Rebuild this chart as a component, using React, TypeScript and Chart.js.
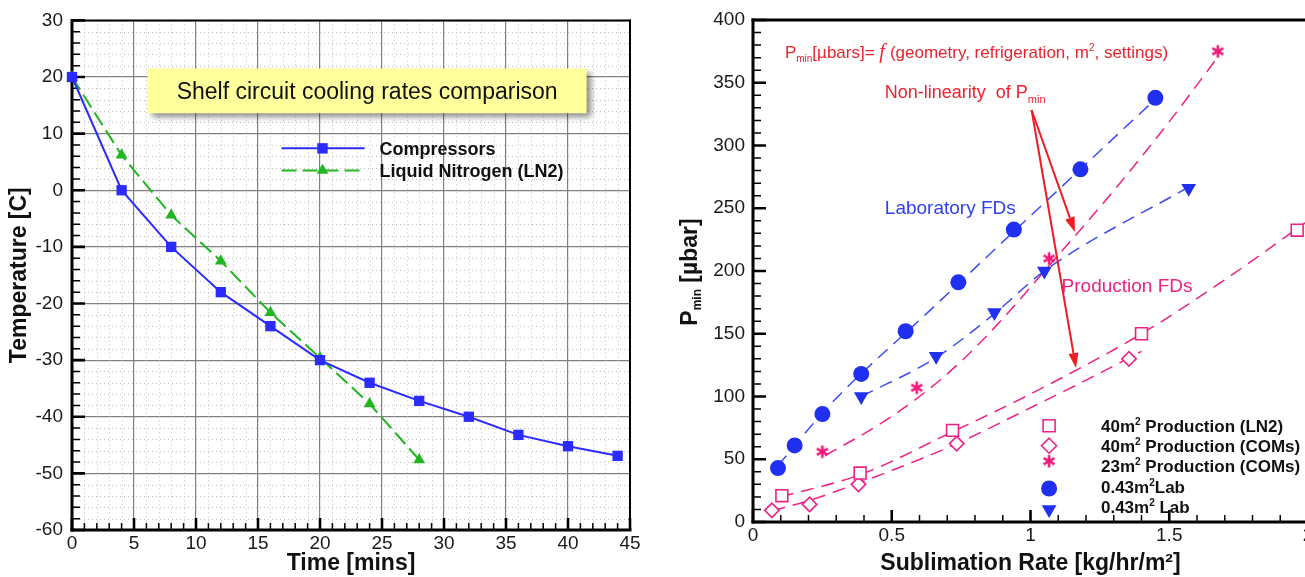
import React, { useEffect, useRef } from "react";
import { Chart, registerables } from "chart.js";

Chart.register(...registerables);

const FONT = '"Liberation Sans", Arial, Helvetica, sans-serif';

// ---------------- Left chart data ----------------
const timeMins = [0, 4, 8, 12, 16, 20, 24, 28, 32, 36, 40, 44];
const compressorsTemp = [20, 0, -10, -18, -24, -30, -34, -37.2, -40, -43.2, -45.2, -46.9];
const ln2Time = [0, 4, 8, 12, 16, 20, 24, 28];
const ln2Temp = [20, 6.2, -4.4, -12.5, -21.6, -29.6, -37.7, -47.6];
const timeTicks = [0, 5, 10, 15, 20, 25, 30, 35, 40, 45];
const tempTicks = [-60, -50, -40, -30, -20, -10, 0, 10, 20, 30];
const leftSeriesNames = ["Compressors", "Liquid Nitrogen (LN2)"];
const leftTitle = "Shelf circuit cooling rates comparison";
const leftXTitle = "Time [mins]";
const leftYTitle = "Temperature [C]";

// ---------------- Right chart data ----------------
const labCircleRate = [0.09, 0.15, 0.25, 0.39, 0.55, 0.74, 0.94, 1.18, 1.45];
const labCirclePmin = [43, 61, 86, 118, 152, 191, 233, 281, 338];
const labTriRate = [0.39, 0.66, 0.87, 1.05, 1.57];
const labTriPmin = [100, 132, 167, 200, 266];
const prod23Rate = [0.25, 0.59, 1.067, 1.675];
const prod23Pmin = [56, 107, 210, 375];
const prod40LN2Rate = [0.104, 0.386, 0.719, 1.4, 1.961];
const prod40LN2Pmin = [21, 39, 73, 150, 232.5];
const prod40COMsRate = [0.068, 0.204, 0.38, 0.734, 1.355];
const prod40COMsPmin = [9.3, 14, 30, 62.5, 130];

// trend (fit) lines
const fitCircleRate = [0.09, 0.28, 0.63, 1.01, 1.46];
const fitCirclePmin = [45, 94, 167, 246, 339];
const fitTriRate = [0.39, 0.66, 0.87, 1.05, 1.57];
const fitTriPmin = [100, 131, 166, 200, 267];
const fitStarRate = [0.26, 0.45, 0.6, 0.75, 0.9, 1.07, 1.3, 1.5, 1.68];
const fitStarPmin = [53, 77, 100, 128, 162, 205, 264, 319, 372];
const fitSquareRate = [0.1, 0.39, 0.72, 1.0, 1.4, 1.7, 2.0];
const fitSquarePmin = [20, 38, 72, 102, 150, 193, 240];
const fitDiamondRate = [0.07, 0.2, 0.38, 0.73, 1.0, 1.2, 1.4];
const fitDiamondPmin = [9, 17, 31, 62, 91, 113, 136];

const rateTicks = [0, 0.5, 1, 1.5, 2];
const pminTicks = [0, 50, 100, 150, 200, 250, 300, 350, 400];
const rightXTitle = "Sublimation Rate [kg/hr/m\u00B2]";
const rightLegend: [string, string, string][] = [
  ["40m", "2", " Production (LN2)"],
  ["40m", "2", " Production (COMs)"],
  ["23m", "2", " Production (COMs)"],
  ["0.43m", "2", "Lab"],
  ["0.43m", "2", " Lab"],
];

// ---------------- styles / placement (not data) ----------------
const BLUE_L = "#2b2bff";
const GREEN_L = "#22b522";
const BLUE_R = "#2030f0";
const BLUE_LINE = "#3d4df0";
const PINK = "#ee2284";
const RED = "#e8242c";
const LN2_DASH = [15, 6];

const leftTitleBox = { x0: 6.1, x1: 41.5, yTop: 21.5, yBottom: 13.6 };
const leftLegendPos = { lineX0: 16.9, lineX1: 23.6, markerX: 20.2, textX: 24.8, rowY: [7.4, 3.5] };

const rightNotes = {
  formula: { x: 0.115, y: 369.5 },
  nonLinear: { x: 0.475, y: 337.8 },
  lab: { x: 0.475, y: 245.4 },
  prod: { x: 1.112, y: 182.9 },
};
const arrowFrom = { x: 1.004, y: 328.3 };
const arrowTips = [
  { x: 1.16, y: 231 },
  { x: 1.164, y: 122.7 },
];
const rightLegendPos = {
  markerX: 1.067,
  textX: 1.254,
  markerY: [76.7, 60.8, 48.5, 26.7, 10],
  textY: [72, 56, 39.8, 22.9, 6.9],
};

const pts = (xs: number[], ys: number[]) => xs.map((x, i) => ({ x, y: ys[i] }));

function makeAsterisk(color: string) {
  const c = document.createElement("canvas");
  c.width = 18;
  c.height = 18;
  const g = c.getContext("2d")!;
  g.strokeStyle = color;
  g.lineWidth = 2.6;
  g.lineCap = "butt";
  const r = 6.3;
  for (const deg of [90, 30, 150]) {
    const a = (deg * Math.PI) / 180;
    g.beginPath();
    g.moveTo(9 - Math.cos(a) * r, 9 - Math.sin(a) * r);
    g.lineTo(9 + Math.cos(a) * r, 9 + Math.sin(a) * r);
    g.stroke();
  }
  return c;
}

type Part = { t: string; font: string; dy?: number };
function drawRich(ctx: CanvasRenderingContext2D, x: number, y: number, parts: Part[], color: string) {
  let cx = x;
  ctx.fillStyle = color;
  ctx.textAlign = "left";
  ctx.textBaseline = "alphabetic";
  for (const p of parts) {
    ctx.font = p.font;
    ctx.fillText(p.t, cx, y + (p.dy || 0));
    cx += ctx.measureText(p.t).width;
  }
}

function drawArrow(ctx: CanvasRenderingContext2D, x0: number, y0: number, x1: number, y1: number) {
  const ang = Math.atan2(y1 - y0, x1 - x0);
  const L = 15;
  const W = 5;
  const bx = x1 - L * Math.cos(ang);
  const by = y1 - L * Math.sin(ang);
  ctx.beginPath();
  ctx.moveTo(x0, y0);
  ctx.lineTo(bx, by);
  ctx.stroke();
  ctx.beginPath();
  ctx.moveTo(x1, y1);
  ctx.lineTo(bx + W * Math.sin(ang), by - W * Math.cos(ang));
  ctx.lineTo(bx - W * Math.sin(ang), by + W * Math.cos(ang));
  ctx.closePath();
  ctx.fill();
}

function drawFrame(
  ctx: CanvasRenderingContext2D,
  a: any,
  xs: any,
  ys: any,
  xMajor: number[],
  xMinor: number[],
  yMajor: number[],
  yMinor: number[],
  w: { left: number; bottom: number; top: number; right: number }
) {
  ctx.save();
  ctx.strokeStyle = "#000";
  ctx.lineCap = "butt";
  ctx.lineWidth = 1.5;
  ctx.beginPath();
  for (const v of xMinor) {
    const px = xs.getPixelForValue(v);
    ctx.moveTo(px, a.bottom);
    ctx.lineTo(px, a.bottom - 7);
  }
  for (const v of yMinor) {
    const py = ys.getPixelForValue(v);
    ctx.moveTo(a.left, py);
    ctx.lineTo(a.left + 8, py);
  }
  ctx.stroke();
  ctx.lineWidth = 2.6;
  ctx.beginPath();
  for (const v of xMajor) {
    const px = xs.getPixelForValue(v);
    ctx.moveTo(px, a.bottom);
    ctx.lineTo(px, a.bottom - 12);
  }
  for (const v of yMajor) {
    const py = ys.getPixelForValue(v);
    ctx.moveTo(a.left, py);
    ctx.lineTo(a.left + 13, py);
  }
  ctx.stroke();
  const seg = (x0: number, y0: number, x1: number, y1: number, lw: number) => {
    ctx.lineWidth = lw;
    ctx.beginPath();
    ctx.moveTo(x0, y0);
    ctx.lineTo(x1, y1);
    ctx.stroke();
  };
  ctx.lineCap = "square";
  seg(a.left, a.top, a.right, a.top, w.top);
  seg(a.right, a.top, a.right, a.bottom, w.right);
  seg(a.left, a.bottom, a.right, a.bottom, w.bottom);
  seg(a.left, a.top, a.left, a.bottom, w.left);
  ctx.restore();
}

const leftDecor = {
  id: "leftDecor",
  beforeDatasetsDraw(chart: any) {
    const { ctx, chartArea: a, scales } = chart;
    const xs = scales.x;
    const ys = scales.y;
    ctx.save();
    ctx.strokeStyle = "#bdbdbd";
    ctx.lineWidth = 1;
    ctx.setLineDash([1, 3]);
    ctx.beginPath();
    const xMinor: number[] = [];
    const yMinor: number[] = [];
    for (let v = 0; v <= 45; v++) {
      if (v % 5 === 0) continue;
      xMinor.push(v);
      const px = Math.round(xs.getPixelForValue(v)) + 0.5;
      ctx.moveTo(px, a.top);
      ctx.lineTo(px, a.bottom);
    }
    for (let v = -60; v <= 30; v += 2) {
      if (v % 10 === 0) continue;
      yMinor.push(v);
      const py = Math.round(ys.getPixelForValue(v)) + 0.5;
      ctx.moveTo(a.left, py);
      ctx.lineTo(a.right, py);
    }
    ctx.stroke();
    ctx.setLineDash([]);

    drawFrame(ctx, a, xs, ys, timeTicks, xMinor, tempTicks, yMinor, { left: 3, bottom: 3, top: 2, right: 2 });

    const bx0 = xs.getPixelForValue(leftTitleBox.x0);
    const bx1 = xs.getPixelForValue(leftTitleBox.x1);
    const by0 = ys.getPixelForValue(leftTitleBox.yTop);
    const by1 = ys.getPixelForValue(leftTitleBox.yBottom);
    ctx.save();
    ctx.shadowColor = "rgba(0,0,0,0.45)";
    ctx.shadowBlur = 6;
    ctx.shadowOffsetX = 4;
    ctx.shadowOffsetY = 4;
    ctx.fillStyle = "#ffff9c";
    ctx.fillRect(bx0, by0, bx1 - bx0, by1 - by0);
    ctx.restore();
    ctx.font = `23px ${FONT}`;
    ctx.fillStyle = "#111";
    ctx.textAlign = "center";
    ctx.textBaseline = "alphabetic";
    ctx.fillText(leftTitle, (bx0 + bx1) / 2, (by0 + by1) / 2 + 8.5);
    ctx.restore();
  },
  afterDatasetsDraw(chart: any) {
    const { ctx, scales } = chart;
    const xs = scales.x;
    const ys = scales.y;
    const lx0 = xs.getPixelForValue(leftLegendPos.lineX0);
    const lx1 = xs.getPixelForValue(leftLegendPos.lineX1);
    const mx = xs.getPixelForValue(leftLegendPos.markerX);
    const tx = xs.getPixelForValue(leftLegendPos.textX);
    ctx.save();
    let ry = ys.getPixelForValue(leftLegendPos.rowY[0]);
    ctx.strokeStyle = BLUE_L;
    ctx.lineWidth = 2;
    ctx.beginPath();
    ctx.moveTo(lx0, ry);
    ctx.lineTo(lx1, ry);
    ctx.stroke();
    ctx.fillStyle = BLUE_L;
    ctx.fillRect(mx - 5.2, ry - 5.2, 10.4, 10.4);
    ctx.font = `bold 18px ${FONT}`;
    ctx.fillStyle = "#111";
    ctx.textAlign = "left";
    ctx.textBaseline = "alphabetic";
    ctx.fillText(leftSeriesNames[0], tx, ry + 6.5);
    ry = ys.getPixelForValue(leftLegendPos.rowY[1]);
    ctx.strokeStyle = GREEN_L;
    ctx.setLineDash(LN2_DASH);
    ctx.beginPath();
    ctx.moveTo(lx0, ry);
    ctx.lineTo(lx1, ry);
    ctx.stroke();
    ctx.setLineDash([]);
    ctx.fillStyle = GREEN_L;
    const r = 6.8;
    ctx.beginPath();
    ctx.moveTo(mx, ry - r);
    ctx.lineTo(mx + r * 0.866, ry + r * 0.5);
    ctx.lineTo(mx - r * 0.866, ry + r * 0.5);
    ctx.closePath();
    ctx.fill();
    ctx.fillStyle = "#111";
    ctx.fillText(leftSeriesNames[1], tx, ry + 6.5);
    ctx.restore();
  },
};

function makeRightDecor(star: HTMLCanvasElement) {
  return {
    id: "rightDecor",
    beforeDatasetsDraw(chart: any) {
      const { ctx, chartArea: a, scales } = chart;
      const xMinor: number[] = [];
      const yMinor: number[] = [];
      for (let i = 0; i <= 20; i++) if (i % 5 !== 0) xMinor.push(i / 10);
      for (let v = 0; v <= 400; v += 10) if (v % 50 !== 0) yMinor.push(v);
      drawFrame(ctx, a, scales.x, scales.y, rateTicks, xMinor, pminTicks, yMinor, { left: 3, bottom: 3, top: 3, right: 2 });
    },
    afterDatasetsDraw(chart: any) {
      const { ctx, chartArea: a, scales } = chart;
      const xs = scales.x;
      const ys = scales.y;
      const X = (v: number) => xs.getPixelForValue(v);
      const Y = (v: number) => ys.getPixelForValue(v);
      ctx.save();
      const f17 = `17px ${FONT}`;
      const f10 = `10px ${FONT}`;
      drawRich(
        ctx,
        X(rightNotes.formula.x),
        Y(rightNotes.formula.y),
        [
          { t: "P", font: f17 },
          { t: "min", font: f10, dy: 4 },
          { t: "[\u00B5bars]= ", font: f17 },
          { t: "f ", font: 'italic 20px "Liberation Serif", "Times New Roman", serif' },
          { t: "(geometry, refrigeration, m", font: f17 },
          { t: "2", font: f10, dy: -7 },
          { t: ", settings)", font: f17 },
        ],
        RED
      );
      drawRich(
        ctx,
        X(rightNotes.nonLinear.x),
        Y(rightNotes.nonLinear.y),
        [
          { t: "Non-linearity  of P", font: `18px ${FONT}` },
          { t: "min", font: `11px ${FONT}`, dy: 5 },
        ],
        RED
      );
      drawRich(ctx, X(rightNotes.lab.x), Y(rightNotes.lab.y), [{ t: "Laboratory FDs", font: `19px ${FONT}` }], "#3040ee");
      drawRich(ctx, X(rightNotes.prod.x), Y(rightNotes.prod.y), [{ t: "Production FDs", font: `19px ${FONT}` }], PINK);

      ctx.strokeStyle = "#ee1c24";
      ctx.fillStyle = "#ee1c24";
      ctx.lineWidth = 2;
      for (const tip of arrowTips) drawArrow(ctx, X(arrowFrom.x), Y(arrowFrom.y), X(tip.x), Y(tip.y));

      const mx = X(rightLegendPos.markerX);
      const tx = X(rightLegendPos.textX);
      const my = rightLegendPos.markerY.map(Y);
      ctx.lineWidth = 1.6;
      ctx.strokeStyle = PINK;
      ctx.fillStyle = "#fff";
      ctx.beginPath();
      ctx.rect(mx - 6, my[0] - 6, 12, 12);
      ctx.fill();
      ctx.stroke();
      ctx.beginPath();
      ctx.moveTo(mx, my[1] - 7.5);
      ctx.lineTo(mx + 7.5, my[1]);
      ctx.lineTo(mx, my[1] + 7.5);
      ctx.lineTo(mx - 7.5, my[1]);
      ctx.closePath();
      ctx.fill();
      ctx.stroke();
      ctx.drawImage(star, mx - star.width / 2, my[2] - star.height / 2);
      ctx.fillStyle = BLUE_R;
      ctx.beginPath();
      ctx.arc(mx, my[3], 8, 0, Math.PI * 2);
      ctx.fill();
      const r = 8.5;
      ctx.beginPath();
      ctx.moveTo(mx, my[4] + r);
      ctx.lineTo(mx + r * 0.866, my[4] - r * 0.5);
      ctx.lineTo(mx - r * 0.866, my[4] - r * 0.5);
      ctx.closePath();
      ctx.fill();
      const fb = `bold 17px ${FONT}`;
      const fs = `bold 10px ${FONT}`;
      rightLegend.forEach((row, i) => {
        drawRich(
          ctx,
          tx,
          Y(rightLegendPos.textY[i]),
          [
            { t: row[0], font: fb },
            { t: row[1], font: fs, dy: -7 },
            { t: row[2], font: fb },
          ],
          "#111"
        );
      });

      ctx.save();
      ctx.translate(a.left - 56, (a.top + a.bottom) / 2 + 1);
      ctx.rotate(-Math.PI / 2);
      const big = `bold 23px ${FONT}`;
      const sub = `bold 12px ${FONT}`;
      ctx.font = big;
      const wP = ctx.measureText("P").width;
      const wR = ctx.measureText(" [\u00B5bar]").width;
      ctx.font = sub;
      const wM = ctx.measureText("min").width;
      const total = wP + wM + wR;
      drawRich(
        ctx,
        -total / 2,
        0,
        [
          { t: "P", font: big },
          { t: "min", font: sub, dy: 4 },
          { t: " [\u00B5bar]", font: big },
        ],
        "#111"
      );
      ctx.restore();
      ctx.restore();
    },
  };
}

export default function App() {
  const leftRef = useRef<HTMLCanvasElement>(null);
  const rightRef = useRef<HTMLCanvasElement>(null);

  useEffect(() => {
    if (!leftRef.current || !rightRef.current) return;
    const tickFont = { family: FONT, size: 19 };
    const titleFont = { family: FONT, size: 23, weight: "bold" as const };

    const left = new Chart(leftRef.current, {
      type: "scatter",
      data: {
        datasets: [
          {
            label: leftSeriesNames[0],
            data: pts(timeMins, compressorsTemp),
            showLine: true,
            borderColor: BLUE_L,
            backgroundColor: BLUE_L,
            borderWidth: 2,
            pointStyle: "rect",
            pointRadius: 7.3,
            pointBorderWidth: 0,
            clip: false,
            tension: 0,
          },
          {
            label: leftSeriesNames[1],
            data: pts(ln2Time, ln2Temp),
            showLine: true,
            borderColor: GREEN_L,
            backgroundColor: GREEN_L,
            borderWidth: 2,
            borderDash: LN2_DASH,
            pointStyle: "triangle",
            pointRadius: 6.8,
            pointBorderWidth: 0,
            clip: false,
            tension: 0,
          },
        ],
      },
      options: {
        animation: false,
        responsive: false,
        maintainAspectRatio: false,
        layout: { padding: { top: 19, right: 22, left: 0, bottom: 0 } },
        plugins: { legend: { display: false }, tooltip: { enabled: false } },
        scales: {
          x: {
            type: "linear",
            min: 0,
            max: 45,
            afterBuildTicks: (s: any) => {
              s.ticks = timeTicks.map((v) => ({ value: v }));
            },
            afterFit: (s: any) => {
              s.height = 47;
            },
            ticks: { font: tickFont, color: "#1a1a1a", padding: 2, callback: (v: any) => String(v) },
            grid: { color: "#808080", lineWidth: 1.2, drawTicks: false },
            border: { display: false },
            title: { display: true, text: leftXTitle, font: titleFont, color: "#111", padding: { top: 0, bottom: 0 } },
          },
          y: {
            type: "linear",
            min: -60,
            max: 30,
            afterBuildTicks: (s: any) => {
              s.ticks = tempTicks.map((v) => ({ value: v }));
            },
            afterFit: (s: any) => {
              s.width = 72;
            },
            ticks: { font: tickFont, color: "#1a1a1a", padding: 9, callback: (v: any) => String(v) },
            grid: { color: "#808080", lineWidth: 1.2, drawTicks: false },
            border: { display: false },
            title: { display: true, text: leftYTitle, font: titleFont, color: "#111", padding: { top: 6, bottom: 0 } },
          },
        },
      },
      plugins: [leftDecor],
    } as any);

    const star = makeAsterisk("#ee1a7a");
    const dashed = (data: any, color: string) => ({
      data,
      showLine: true,
      borderColor: color,
      borderWidth: 1.5,
      borderDash: [13, 8],
      pointRadius: 0,
      clip: false,
      cubicInterpolationMode: "monotone",
    });

    const right = new Chart(rightRef.current, {
      type: "scatter",
      data: {
        datasets: [
          {
            label: "0.43m2 Lab (circles)",
            data: pts(labCircleRate, labCirclePmin),
            pointStyle: "circle",
            pointRadius: 8,
            backgroundColor: BLUE_R,
            borderColor: BLUE_R,
            pointBorderWidth: 0,
            clip: false,
          },
          {
            label: "0.43m2 Lab (triangles)",
            data: pts(labTriRate, labTriPmin),
            pointStyle: "triangle",
            rotation: 180,
            pointRadius: 8.5,
            backgroundColor: BLUE_R,
            borderColor: BLUE_R,
            pointBorderWidth: 0,
            clip: false,
          },
          {
            label: "23m2 Production (COMs)",
            data: pts(prod23Rate, prod23Pmin),
            pointStyle: star,
            pointRadius: 8,
            clip: false,
          },
          {
            label: "40m2 Production (LN2)",
            data: pts(prod40LN2Rate, prod40LN2Pmin),
            pointStyle: "rect",
            pointRadius: 8.4,
            backgroundColor: "#fff",
            borderColor: PINK,
            pointBorderWidth: 1.6,
            clip: false,
          },
          {
            label: "40m2 Production (COMs)",
            data: pts(prod40COMsRate, prod40COMsPmin),
            pointStyle: "rectRot",
            pointRadius: 7.2,
            backgroundColor: "#fff",
            borderColor: PINK,
            pointBorderWidth: 1.6,
            clip: false,
          },
          { label: "fit circles", ...dashed(pts(fitCircleRate, fitCirclePmin), BLUE_LINE) },
          { label: "fit triangles", ...dashed(pts(fitTriRate, fitTriPmin), BLUE_LINE) },
          { label: "fit stars", ...dashed(pts(fitStarRate, fitStarPmin), PINK) },
          { label: "fit squares", ...dashed(pts(fitSquareRate, fitSquarePmin), PINK) },
          { label: "fit diamonds", ...dashed(pts(fitDiamondRate, fitDiamondPmin), PINK) },
        ],
      },
      options: {
        animation: false,
        responsive: false,
        maintainAspectRatio: false,
        layout: { padding: { top: 20, right: 22, left: 0, bottom: 0 } },
        plugins: { legend: { display: false }, tooltip: { enabled: false } },
        scales: {
          x: {
            type: "linear",
            min: 0,
            max: 2,
            afterBuildTicks: (s: any) => {
              s.ticks = rateTicks.map((v) => ({ value: v }));
            },
            afterFit: (s: any) => {
              s.height = 55;
            },
            ticks: { font: tickFont, color: "#1a1a1a", padding: 2, callback: (v: any) => String(v) },
            grid: { display: false, drawTicks: false },
            border: { display: false },
            title: { display: true, text: rightXTitle, font: titleFont, color: "#111", padding: { top: 0, bottom: 0 } },
          },
          y: {
            type: "linear",
            min: 0,
            max: 400,
            afterBuildTicks: (s: any) => {
              s.ticks = pminTicks.map((v) => ({ value: v }));
            },
            afterFit: (s: any) => {
              s.width = 93;
            },
            ticks: { font: tickFont, color: "#1a1a1a", padding: 8, callback: (v: any) => String(v) },
            grid: { display: false, drawTicks: false },
            border: { display: false },
            title: { display: false },
          },
        },
      },
      plugins: [makeRightDecor(star)],
    } as any);

    return () => {
      left.destroy();
      right.destroy();
    };
  }, []);

  return (
    <div
      style={{
        position: "fixed",
        left: 0,
        top: 0,
        width: 1305,
        height: 577,
        overflow: "hidden",
        background: "#fff",
      }}
    >
      <canvas
        ref={leftRef}
        width={652}
        height={577}
        style={{ position: "absolute", left: 0, top: 0, width: 652, height: 577 }}
      />
      <canvas
        ref={rightRef}
        width={670}
        height={577}
        style={{ position: "absolute", left: 660, top: 0, width: 670, height: 577 }}
      />
    </div>
  );
}
